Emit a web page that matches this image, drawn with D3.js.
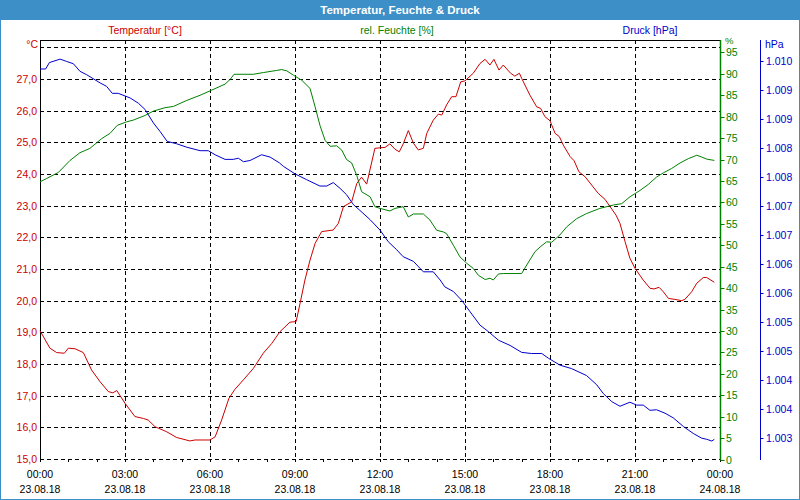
<!DOCTYPE html>
<html>
<head>
<meta charset="utf-8">
<script src="https://cdn.jsdelivr.net/npm/d3@7"></script>
<style>
  html, body { margin: 0; padding: 0; background: #fff; }
  svg { display: block; }
  text { font-family: "Liberation Sans", Arial, sans-serif; }
</style>
</head>
<body>
<svg id="chart" width="800" height="500"></svg>
<script>
// ---------- DATA ----------
const title = "Temperatur, Feuchte & Druck";
const seriesNames = ["Temperatur [°C]", "rel. Feuchte [%]", "Druck [hPa]"];
const unitLabels = ["°C", "%", "hPa"];

const timeTickHours = [0, 3, 6, 9, 12, 15, 18, 21, 24];
const timeTickLabels = ["00:00", "03:00", "06:00", "09:00", "12:00", "15:00", "18:00", "21:00", "00:00"];
const dateTickLabels = ["23.08.18", "23.08.18", "23.08.18", "23.08.18", "23.08.18", "23.08.18", "23.08.18", "23.08.18", "24.08.18"];

const tempTicks = [15, 16, 17, 18, 19, 20, 21, 22, 23, 24, 25, 26, 27];
const tempGrid = [16, 17, 18, 19, 20, 21, 22, 23, 24, 25, 26, 27, 28];
const humTicks = [0, 5, 10, 15, 20, 25, 30, 35, 40, 45, 50, 55, 60, 65, 70, 75, 80, 85, 90, 95];
const presTicks = [1003.5, 1004, 1004.5, 1005, 1005.5, 1006, 1006.5, 1007, 1007.5, 1008, 1008.5, 1009, 1009.5, 1010];
const presTickLabels = ["1.003", "1.004", "1.004", "1.005", "1.005", "1.006", "1.006", "1.007", "1.007", "1.008", "1.008", "1.009", "1.009", "1.010"];

// Temperature (°C) — hours since 00:00 and values
const tempHours = [0, 0.35, 0.59, 0.86, 1.0, 1.24, 1.53, 1.82, 2.12, 2.41, 2.57, 2.71, 3.0, 3.35, 3.65, 3.82, 4.06, 4.47, 4.82, 5.29, 5.47, 6.0, 6.18, 6.41, 6.67, 6.88, 7.18, 7.53, 7.88, 8.18, 8.47, 8.82, 9.04, 9.18, 9.35, 9.53, 9.71, 9.94, 10.35, 10.53, 10.71, 11.0, 11.18, 11.35, 11.53, 11.82, 12.18, 12.35, 12.53, 12.68, 12.82, 13.0, 13.18, 13.35, 13.53, 13.65, 13.88, 14.06, 14.18, 14.35, 14.53, 14.68, 14.85, 15.0, 15.29, 15.53, 15.71, 15.88, 16.02, 16.2, 16.35, 16.61, 16.76, 16.92, 17.0, 17.29, 17.53, 17.67, 17.82, 18.0, 18.18, 18.33, 18.47, 18.71, 18.85, 19.02, 19.24, 19.47, 19.7, 19.94, 20.12, 20.33, 20.47, 20.65, 20.82, 21.0, 21.29, 21.53, 21.67, 21.85, 22.0, 22.18, 22.41, 22.65, 22.76, 23.0, 23.18, 23.41, 23.53, 23.8];
const tempValues = [19.05, 18.5, 18.36, 18.34, 18.5, 18.48, 18.36, 17.81, 17.44, 17.13, 17.09, 17.16, 16.76, 16.34, 16.28, 16.23, 16.02, 15.86, 15.68, 15.57, 15.6, 15.6, 15.7, 16.23, 16.92, 17.2, 17.5, 17.86, 18.34, 18.65, 19.02, 19.32, 19.34, 19.92, 20.65, 21.28, 21.81, 22.18, 22.23, 22.44, 22.97, 23.12, 23.7, 23.9, 23.68, 24.81, 24.84, 24.95, 24.78, 24.7, 24.95, 25.37, 24.97, 24.76, 24.81, 25.28, 25.7, 25.89, 25.86, 26.18, 26.44, 26.44, 26.91, 26.94, 27.18, 27.49, 27.62, 27.44, 27.62, 27.28, 27.44, 27.18, 27.09, 27.18, 27.02, 26.49, 26.12, 26.07, 25.81, 25.68, 25.28, 25.18, 24.91, 24.55, 24.42, 24.07, 23.91, 23.65, 23.39, 23.2, 22.97, 22.7, 22.44, 21.86, 21.34, 21.02, 20.65, 20.39, 20.37, 20.42, 20.28, 20.07, 20.04, 20.0, 20.04, 20.28, 20.55, 20.73, 20.73, 20.58];

// Relative humidity (%)
const humHours = [0, 0.24, 0.65, 1.06, 1.41, 1.76, 2.18, 2.47, 2.73, 3.06, 3.29, 3.71, 4.0, 4.41, 4.71, 5.18, 5.65, 6.06, 6.53, 6.71, 6.85, 7.53, 7.88, 8.35, 8.53, 8.71, 8.94, 9.24, 9.53, 9.71, 9.88, 10.06, 10.24, 10.47, 10.65, 10.82, 11.0, 11.18, 11.35, 11.65, 11.82, 12.0, 12.35, 12.53, 12.82, 13.0, 13.18, 13.53, 13.76, 14.0, 14.24, 14.35, 14.59, 14.82, 15.06, 15.29, 15.47, 15.71, 15.88, 16.0, 16.18, 16.35, 17.0, 17.18, 17.47, 17.65, 17.88, 18.06, 18.35, 18.59, 18.94, 19.29, 19.76, 20.24, 20.53, 20.82, 21.18, 21.47, 21.76, 22.0, 22.29, 22.59, 22.88, 23.18, 23.35, 23.53, 23.8];
const humValues = [64.8, 65.6, 67.0, 69.8, 71.6, 72.6, 74.9, 76.1, 78.0, 78.8, 79.2, 80.3, 81.3, 82.1, 82.4, 83.8, 85.0, 86.2, 87.6, 88.7, 89.9, 89.9, 90.3, 90.8, 91.0, 90.7, 89.7, 88.5, 86.6, 82.3, 78.0, 74.5, 73.1, 73.2, 72.2, 70.0, 69.2, 66.3, 62.5, 61.3, 59.0, 58.6, 58.0, 58.6, 59.0, 56.6, 57.3, 57.3, 55.9, 53.5, 53.1, 52.7, 50.0, 47.3, 45.8, 44.6, 43.0, 42.0, 42.3, 41.9, 43.3, 43.4, 43.4, 45.4, 48.5, 49.6, 50.8, 50.7, 52.4, 54.3, 56.2, 57.4, 58.6, 59.4, 59.7, 61.3, 62.8, 64.2, 65.9, 66.9, 67.9, 69.2, 70.2, 71.0, 70.6, 70.1, 69.8];

// Air pressure (hPa)
const presHours = [0, 0.2, 0.33, 0.71, 0.94, 1.18, 1.41, 1.65, 2.12, 2.35, 2.55, 2.76, 3.18, 3.47, 3.71, 4.0, 4.24, 4.49, 4.82, 5.18, 5.65, 5.94, 6.18, 6.53, 6.82, 7.0, 7.18, 7.41, 7.82, 8.12, 8.45, 8.59, 9.0, 9.41, 9.88, 10.12, 10.35, 10.59, 10.82, 11.06, 11.29, 11.65, 12.0, 12.29, 12.59, 12.82, 13.18, 13.53, 13.88, 14.12, 14.29, 14.59, 14.88, 15.18, 15.53, 15.82, 16.18, 16.59, 17.0, 17.35, 17.71, 17.94, 18.35, 18.76, 19.29, 19.65, 19.88, 20.18, 20.47, 20.82, 21.06, 21.29, 21.53, 21.76, 22.06, 22.35, 22.71, 23.06, 23.35, 23.53, 23.71, 23.8];
const presValues = [1009.87, 1009.87, 1009.98, 1010.04, 1010.0, 1009.96, 1009.83, 1009.77, 1009.63, 1009.57, 1009.45, 1009.45, 1009.37, 1009.28, 1009.17, 1008.94, 1008.79, 1008.62, 1008.58, 1008.52, 1008.46, 1008.46, 1008.39, 1008.31, 1008.31, 1008.33, 1008.27, 1008.29, 1008.39, 1008.35, 1008.25, 1008.19, 1008.06, 1007.96, 1007.85, 1007.85, 1007.91, 1007.81, 1007.7, 1007.53, 1007.43, 1007.27, 1007.09, 1006.89, 1006.75, 1006.63, 1006.55, 1006.37, 1006.37, 1006.23, 1006.11, 1006.03, 1005.88, 1005.68, 1005.45, 1005.34, 1005.19, 1005.1, 1004.98, 1004.96, 1004.96, 1004.88, 1004.76, 1004.7, 1004.58, 1004.42, 1004.27, 1004.13, 1004.05, 1004.12, 1004.07, 1004.07, 1003.98, 1003.99, 1003.93, 1003.85, 1003.7, 1003.58, 1003.5, 1003.48, 1003.45, 1003.48];

// ---------- LAYOUT ----------
const W = 800, H = 500;
const plot = { left: 40, right: 720, top: 40, bottom: 459 };
const RED = "#cc0000", GREEN = "#008000", BLUE = "#0000cc", FRAME = "#3d8fc7";

const svg = d3.select("#chart");

const x = d3.scaleLinear().domain([0, 24]).range([plot.left, plot.right]);
const yT = d3.scaleLinear().domain([15, 28.23]).range([plot.bottom, plot.top]);
const yH = d3.scaleLinear().domain([0, 97.9]).range([plot.bottom + 0.5, plot.top]);
const yP = d3.scaleLinear().domain([1003.14, 1010.37]).range([plot.bottom, plot.top]);

// Frame & title bar
svg.append("rect").attr("x", 0).attr("y", 0).attr("width", W).attr("height", H).attr("fill", "#fff");
svg.append("rect").attr("x", 0.5).attr("y", 0.5).attr("width", W - 1).attr("height", H - 1)
  .attr("fill", "none").attr("stroke", FRAME).attr("stroke-width", 1);
svg.append("rect").attr("x", 0).attr("y", 0).attr("width", W).attr("height", 20).attr("fill", FRAME);
svg.append("text").attr("x", W / 2).attr("y", 14).attr("text-anchor", "middle")
  .attr("fill", "#fff").attr("font-weight", "bold").attr("font-size", 11.5).text(title);

// Series headers
const headerX = [145, 397, 650];
const headerColors = [RED, GREEN, BLUE];
seriesNames.forEach((n, i) => {
  svg.append("text").attr("x", headerX[i]).attr("y", 34).attr("text-anchor", "middle")
    .attr("fill", headerColors[i]).attr("font-size", 10.5).text(n);
});

// Grid lines
const grid = svg.append("g").attr("stroke", "#000").attr("stroke-width", 1).attr("stroke-dasharray", "4,3");
grid.selectAll("line.h").data(tempGrid).join("line")
  .attr("x1", plot.left).attr("x2", plot.right)
  .attr("y1", d => Math.round(yT(d)) + 0.5).attr("y2", d => Math.round(yT(d)) + 0.5);
grid.selectAll("line.v").data(timeTickHours.slice(1, -1)).join("line")
  .attr("y1", plot.top).attr("y2", plot.bottom)
  .attr("x1", d => Math.round(x(d)) + 0.5).attr("x2", d => Math.round(x(d)) + 0.5);
// bottom dashed base line
grid.append("line").attr("x1", plot.left).attr("x2", plot.right)
  .attr("y1", plot.bottom + 0.5).attr("y2", plot.bottom + 0.5);

// Top border & left axis line
svg.append("line").attr("x1", plot.left).attr("x2", plot.right).attr("y1", plot.top + 0.5).attr("y2", plot.top + 0.5)
  .attr("stroke", "#000");
svg.append("line").attr("x1", plot.left + 0.5).attr("x2", plot.left + 0.5).attr("y1", plot.top).attr("y2", plot.bottom + 3)
  .attr("stroke", "#000");

// X axis hourly minor ticks
const hours = d3.range(0, 25);
svg.append("g").selectAll("line").data(hours).join("line")
  .attr("x1", d => Math.round(x(d)) + 0.5).attr("x2", d => Math.round(x(d)) + 0.5)
  .attr("y1", plot.bottom).attr("y2", plot.bottom + 3).attr("stroke", "#000");

// X axis labels
const xl = svg.append("g").attr("font-size", 10.5).attr("fill", "#000").attr("text-anchor", "middle");
xl.selectAll("text.t").data(timeTickHours).join("text")
  .attr("x", d => x(d)).attr("y", 478).text((d, i) => timeTickLabels[i]);
xl.selectAll("text.d").data(timeTickHours).join("text")
  .attr("class", "d")
  .attr("x", d => x(d)).attr("y", 493).text((d, i) => dateTickLabels[i]);

// Left temperature axis labels
svg.append("g").selectAll("text").data(tempTicks).join("text")
  .attr("x", 37).attr("y", d => yT(d) + 4).attr("text-anchor", "end")
  .attr("fill", RED).attr("font-size", 10.5).text(d => d3.format(".1f")(d).replace(".", ","));
svg.append("text").attr("x", 38).attr("y", 48).attr("text-anchor", "end").attr("fill", RED)
  .attr("font-size", 10.5).text(unitLabels[0]);

// Right humidity axis
const hx = plot.right + 0.5;
svg.append("line").attr("x1", hx).attr("x2", hx).attr("y1", plot.top).attr("y2", plot.bottom + 1)
  .attr("stroke", GREEN).attr("stroke-width", 1.5);
const hAx = svg.append("g");
hAx.selectAll("line").data(humTicks).join("line")
  .attr("x1", hx).attr("x2", hx + 4).attr("y1", d => Math.round(yH(d)) + 0.5).attr("y2", d => Math.round(yH(d)) + 0.5)
  .attr("stroke", GREEN);
hAx.selectAll("text").data(humTicks).join("text")
  .attr("x", 726).attr("y", d => yH(d) + 4).attr("fill", GREEN).attr("font-size", 10.5).text(d => d);
svg.append("text").attr("x", 725).attr("y", 44).attr("fill", GREEN).attr("font-size", 9.5).text(unitLabels[1]);

// Right pressure axis
const px = 760.5;
svg.append("line").attr("x1", px).attr("x2", px).attr("y1", 40).attr("y2", 460)
  .attr("stroke", BLUE).attr("stroke-width", 1);
const pAx = svg.append("g");
pAx.selectAll("line").data(presTicks).join("line")
  .attr("x1", px).attr("x2", px + 3).attr("y1", d => Math.round(yP(d)) + 0.5).attr("y2", d => Math.round(yP(d)) + 0.5)
  .attr("stroke", BLUE);
pAx.selectAll("text").data(presTicks).join("text")
  .attr("x", 766).attr("y", d => yP(d) + 4).attr("fill", BLUE).attr("font-size", 10.5).text((d, i) => presTickLabels[i]);
svg.append("text").attr("x", 765).attr("y", 48).attr("fill", BLUE).attr("font-size", 10.5).text(unitLabels[2]);

// Lines
function drawLine(hoursArr, vals, yScale, color) {
  const pts = hoursArr.map((h, i) => [h, vals[i]]);
  svg.append("path").datum(pts)
    .attr("fill", "none").attr("stroke", color).attr("stroke-width", 1)
    .attr("d", d3.line().x(d => x(d[0])).y(d => yScale(d[1])));
}
drawLine(humHours, humValues, yH, GREEN);
drawLine(presHours, presValues, yP, BLUE);
drawLine(tempHours, tempValues, yT, RED);
</script>
</body>
</html>
